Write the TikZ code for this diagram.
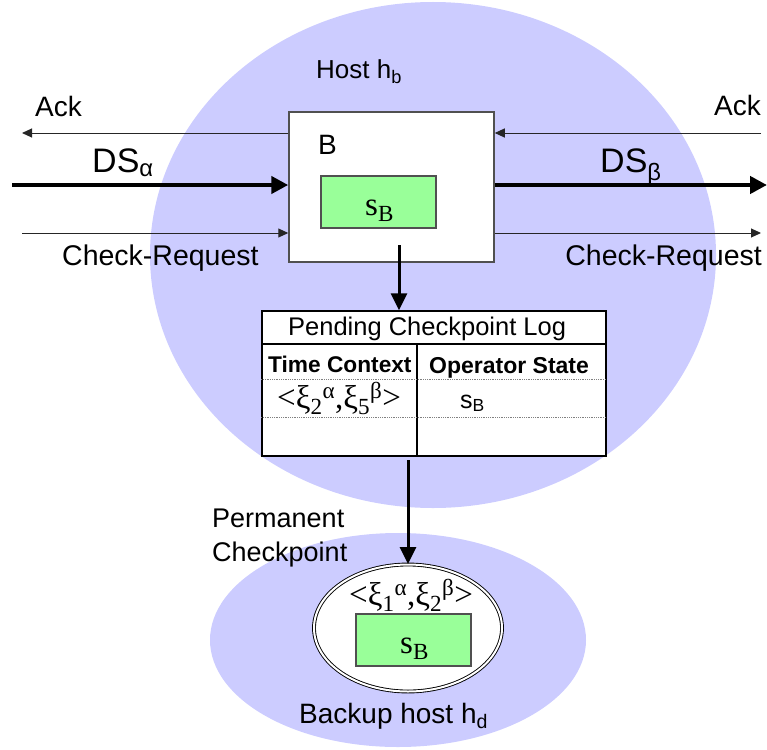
\documentclass[tikz,border=0pt]{standalone}
\usepackage{fontspec}
\setmainfont{Liberation Sans}
\newfontfamily\timesfont{Liberation Serif}
\usetikzlibrary{arrows.meta,shapes.geometric}
\definecolor{hostblue}{RGB}{204,204,255}
\definecolor{stategreen}{RGB}{153,255,153}
\definecolor{boxgray}{RGB}{80,80,80}
\newcommand{\pxsize}[1]{\fontsize{#1}{1.24\dimexpr#1pt\relax}\selectfont}

\begin{document}
\begin{tikzpicture}[x=1pt, y=-1pt,
    txt/.style={inner sep=0pt, anchor=base west},
    thinarrow/.style={draw=black!85, line width=1pt, -{Triangle[length=10pt,width=9pt]}},
    thickarrow/.style={line width=4.8pt, -{Triangle[length=17pt,width=17pt]}},
    vertarrow/.style={line width=3pt, -{Triangle[length=17pt,width=16pt]}},
    statebox/.style={draw=boxgray, line width=1.2pt, fill=stategreen, minimum width=115pt, minimum height=52pt, inner sep=0pt}]
    \useasboundingbox (0,0) rectangle (767,749);
    % hosts
    \fill[hostblue] (433,255) ellipse [x radius=283pt, y radius=253pt];
    \fill[hostblue] (398,640) ellipse [x radius=188pt, y radius=107pt];
    \node[txt] (hostlbl) at (316,79) {\pxsize{26}Host h\textsubscript{b}};
    % operator B
    \node[draw=boxgray, line width=1.5pt, fill=white, minimum width=205pt, minimum height=150pt, inner sep=0pt] (opB) at (391.5,187) {};
    \node[txt] (opBlbl) at (318,154) {\pxsize{28}B};
    \node[statebox] (stateB) at (378.5,202) {};
    \node[txt] (stateBlbl) at (365,215) {\timesfont\pxsize{33}s\textsubscript{B}};
    % streams in and out
    \coordinate (ackLend) at (22,133);
    \coordinate (dsAstart) at (12,185);
    \coordinate (crLstart) at (22,233);
    \coordinate (ackRstart) at (761,133);
    \coordinate (dsBend) at (767,185);
    \coordinate (crRend) at (761,233);
    \draw[thinarrow] (opB.west |- ackLend) -- (ackLend);
    \draw[thickarrow] (dsAstart) -- (opB.west |- dsAstart);
    \draw[thinarrow] (crLstart) -- (opB.west |- crLstart);
    \draw[thinarrow] (ackRstart) -- (opB.east |- ackRstart);
    \draw[thickarrow] (opB.east |- dsBend) -- (dsBend);
    \draw[thinarrow] (opB.east |- crRend) -- (crRend);
    \node[txt] (ackLlbl) at (35,116) {\pxsize{28}Ack};
    \node[txt] (dsAlbl) at (92,172) {\pxsize{34}DS\textsubscript{α}};
    \node[txt] (crLlbl) at (62,265) {\pxsize{28.5}Check-Request};
    \node[txt, anchor=base east] (ackRlbl) at (761,115) {\pxsize{28}Ack};
    \node[txt] (dsBlbl) at (600,172) {\pxsize{34}DS\textsubscript{β}};
    \node[txt, anchor=base east] (crRlbl) at (762,265) {\pxsize{28.5}Check-Request};
    % pending checkpoint log
    \node[draw, line width=1.5pt, fill=white, minimum width=344pt, minimum height=145pt, inner sep=0pt] (logtab) at (434,383.5) {};
    \draw[line width=1.2pt] (logtab.west |- 0,344) -- (logtab.east |- 0,344);
    \draw[line width=1.2pt] (417,344) -- (417,456);
    \draw[gray, densely dotted, line width=0.8pt] (logtab.west |- 0,379) -- (logtab.east |- 0,379);
    \draw[gray, densely dotted, line width=0.8pt] (logtab.west |- 0,417) -- (logtab.east |- 0,417);
    \node[txt] (logtitle) at (288,335) {\pxsize{25.5}Pending Checkpoint Log};
    \node[txt] (colTime) at (268,372) {\pxsize{22.7}\bfseries Time Context};
    \node[txt] (colState) at (429,373) {\pxsize{23}\bfseries Operator State};
    \node[txt] (pendTime) at (277,408) {\timesfont\pxsize{33}<ξ\textsubscript{2}\textsuperscript{α},ξ\textsubscript{5}\textsuperscript{β}>};
    \node[txt] (pendState) at (460,408) {\pxsize{25}s\textsubscript{B}};
    \coordinate (logstart) at (399,245);
    \draw[vertarrow] (logstart) -- (logstart |- logtab.north);
    % backup host
    \node[ellipse, draw, double, double distance=2pt, line width=0.9pt, fill=white, minimum width=188pt, minimum height=127pt, inner sep=0pt] (ckpt) at (408,628) {};
    \node[txt] (ckptTime) at (349,605) {\timesfont\pxsize{33}<ξ\textsubscript{1}\textsuperscript{α},ξ\textsubscript{2}\textsuperscript{β}>};
    \node[statebox] (ckptState) at (413.5,640) {};
    \node[txt] (ckptStatelbl) at (400,653) {\timesfont\pxsize{33}s\textsubscript{B}};
    \coordinate (permstart) at (408,460);
    \draw[vertarrow] (permstart) -- (ckpt.north);
    \node[inner sep=0pt, anchor=north west, align=left, font=\pxsize{27}] (permlbl) at (212,509) {Permanent\\Checkpoint};
    \node[txt] (backuplbl) at (299,723) {\pxsize{28}Backup host h\textsubscript{d}};
\end{tikzpicture}
\end{document}
